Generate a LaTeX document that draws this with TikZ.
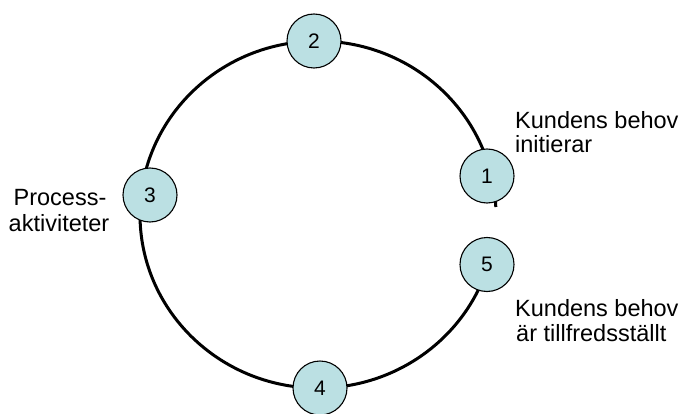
\documentclass[tikz,border=0pt]{standalone}
\usepackage{fontspec}
\setmainfont{Liberation Sans}
\definecolor{stepfill}{RGB}{187,224,227}
\tikzset{
  stepnode/.style={circle, draw=black, line width=1.1pt, fill=stepfill, minimum size=54pt, inner sep=0pt, font=\fontsize{21}{24}\selectfont},
  lbl/.style={inner sep=0pt, font=\fontsize{23.5}{26}\selectfont},
  ring/.style={draw=black, line width=3pt}
}
\begin{document}
\begin{tikzpicture}[x=1pt, y=-1pt]
\useasboundingbox (0,0) rectangle (679,414);
% ring (ellipse centre (318,214.5), radii 178 x 173.5), open between 1 and 5
\coordinate (ringstart) at (495.8,207);
\draw[ring] (ringstart) arc[start angle=-2.5, end angle=-349, x radius=178, y radius=173.5];
% steps
\node[stepnode] (n1) at (487,176) {1};
\node[stepnode] (n2) at (314,41) {2};
\node[stepnode] (n3) at (150,195) {3};
\node[stepnode] (n4) at (320,388) {4};
\node[stepnode] (n5) at (487,264.5) {5};
% labels
\node[lbl, anchor=base west] (t1a) at (515,129) {Kundens behov};
\node[lbl, anchor=base west] (t1b) at (515,153) {initierar};
\node[lbl, anchor=base] (t3a) at (60,205) {Process-};
\node[lbl, anchor=base] (t3b) at (59,231.7) {aktiviteter};
\node[lbl, anchor=base west] (t5a) at (515,316.7) {Kundens behov};
\node[lbl, anchor=base west] (t5b) at (516,341.7) {är tillfredsställt};
\end{tikzpicture}
\end{document}
